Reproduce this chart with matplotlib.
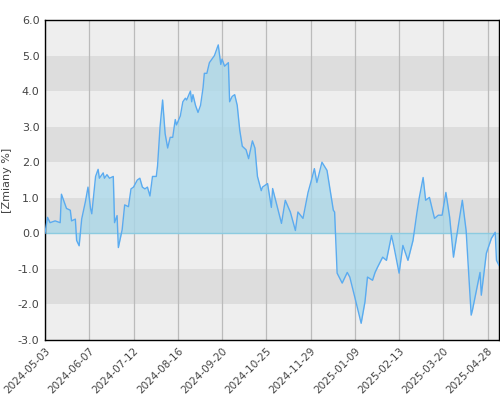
import matplotlib
matplotlib.use("Agg")
import matplotlib.pyplot as plt
import numpy as np

# x positions are trading-session offsets (axis spacing of the reference)
days = [0,2,4,8,12,13,16,17,20,21,24,25,27,29,32,34,36,37,40,42,43,46,47,49,51,54,55,57,58,61,63,66,68,70,73,75,77,79,81,83,85,88,89,91,93,95,97,99,101,103,104,107,109,111,112,115,116,117,119,121,123,125,126,128,130,132,134,137,139,140,142,145,146,148,150,152,154,156,159,161,164,166,168,171,172,176,179,180,183,187,190,194,198,200,204,208,211,213,215,219,223,228,229,231,235,239,241,245,250,253,255,259,261,263,267,270,274,276,280,283,287,291,294,296,299,301,304,308,311,314,317,320,323,326,330,333,337,338,344,345,349,353,356,357,359]
values = [0.0,0.45,0.3,0.35,0.3,1.1,0.8,0.7,0.65,0.35,0.4,-0.2,-0.35,0.4,0.9,1.3,0.7,0.55,1.6,1.8,1.55,1.7,1.55,1.65,1.55,1.6,0.3,0.5,-0.4,0.1,0.8,0.75,1.25,1.3,1.5,1.55,1.3,1.25,1.3,1.05,1.6,1.6,1.9,3.0,3.75,2.8,2.4,2.7,2.7,3.2,3.05,3.3,3.7,3.8,3.75,4.0,3.7,3.9,3.6,3.4,3.6,4.1,4.5,4.5,4.8,4.9,5.0,5.3,4.75,4.9,4.7,4.8,3.7,3.85,3.9,3.6,2.9,2.45,2.35,2.1,2.6,2.4,1.6,1.2,1.3,1.4,0.73,1.26,0.84,0.28,0.93,0.6,0.08,0.6,0.42,1.15,1.54,1.82,1.43,2.0,1.77,0.65,0.6,-1.12,-1.4,-1.1,-1.23,-1.8,-2.53,-1.93,-1.23,-1.32,-1.1,-0.95,-0.67,-0.76,-0.06,-0.39,-1.12,-0.34,-0.76,-0.2,0.56,1.01,1.57,0.93,1.01,0.42,0.51,0.51,1.15,0.45,-0.67,0.03,0.93,0.08,-2.3,-2.16,-1.1,-1.74,-0.56,-0.14,0.03,-0.76,-0.9]
tick_labels = ["2024-05-03","2024-06-07","2024-07-12","2024-08-16","2024-09-20","2024-10-25","2024-11-29","2025-01-09","2025-02-13","2025-03-20","2025-04-28"]
tick_pos = [0,35,70,105,140,175,210,245,280,315,350]

x = np.array(days)
y = np.array(values)

fig = plt.figure(figsize=(5, 4), dpi=100)
ax = fig.add_axes([0.09, 0.15, 0.908, 0.8])
ax.set_xlim(0, 359)
ax.set_ylim(-3, 6)
for i, lo in enumerate(range(-3, 6)):
    ax.axhspan(lo, lo + 1, color="#eeeeee" if i % 2 == 0 else "#dddddd", lw=0, zorder=0)
for td in tick_pos:
    ax.axvline(td, color="#bbbbbb", lw=0.9, zorder=1)
ax.fill_between(x, y, 0, color="#a8d8ea", alpha=0.75, lw=0, zorder=2)
ax.axhline(0, color="#8ccbe0", lw=1, zorder=2)
ax.plot(x, y, color="#5aabf0", lw=1, zorder=3)
ax.set_xticks(tick_pos)
ax.set_xticklabels(tick_labels, rotation=45, ha="right", rotation_mode="anchor", fontsize=7.5, color="#444444")
ax.set_yticks(np.arange(-3, 6.1, 1))
ax.set_yticklabels([f"{v:.1f}" for v in np.arange(-3, 6.1, 1)], fontsize=8, color="#444444")
ax.tick_params(length=0, pad=4)
ax.set_ylabel("[Zmiany %]", fontsize=8, color="#444444")
for s in ax.spines.values():
    s.set_color("black"); s.set_linewidth(1)
fig.savefig("out.png", dpi=100)
